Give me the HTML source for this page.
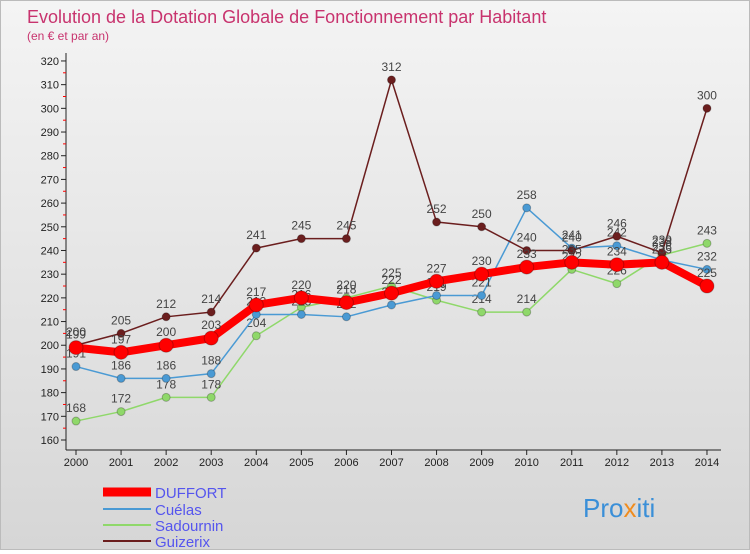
<!DOCTYPE html>
<html><head><meta charset="utf-8"><style>
body{margin:0;width:750px;height:550px;overflow:hidden;font-family:"Liberation Sans",sans-serif}
#wrap{position:relative;width:748px;height:548px;border:1px solid #bbb;background:linear-gradient(#f4f4f4,#d6d6d6)}
</style></head><body>
<div id="wrap">
<svg id="svg" width="748" height="548" xmlns="http://www.w3.org/2000/svg">
<text x="26" y="22" font-size="18" fill="#c8336e">Evolution de la Dotation Globale de Fonctionnement par Habitant</text>
<text x="26" y="39" font-size="12" fill="#c8336e">(en € et par an)</text>
<g id="axes"></g><g id="series"></g>
<g>
<line x1="102" y1="491" x2="150" y2="491" stroke="#f00" stroke-width="9"/>
<text x="154" y="497" font-size="15" fill="#5555ee">DUFFORT</text>
<line x1="102" y1="508" x2="150" y2="508" stroke="#4a9ad4" stroke-width="2"/>
<text x="154" y="514" font-size="15" fill="#5555ee">Cuélas</text>
<line x1="102" y1="524" x2="150" y2="524" stroke="#8fd86a" stroke-width="2"/>
<text x="154" y="530" font-size="15" fill="#5555ee">Sadournin</text>
<line x1="102" y1="540" x2="150" y2="540" stroke="#6b1e1e" stroke-width="2"/>
<text x="154" y="546" font-size="15" fill="#5555ee">Guizerix</text>
</g>
<text x="582" y="516" font-size="26" fill="#3a8fd8">Pro<tspan fill="#f08c1e">x</tspan>iti</text>
</svg></div>
<script>
const years=[2000,2001,2002,2003,2004,2005,2006,2007,2008,2009,2010,2011,2012,2013,2014];
const duffort=[199,197,200,203,217,220,218,222,227,230,233,235,234,235,225];
const cuelas=[191,186,186,188,213,213,212,217,221,221,258,241,242,236,232];
const sadournin=[168,172,178,178,204,216,220,225,219,214,214,232,226,238,243];
const guizerix=[200,205,212,214,241,245,245,312,252,250,240,240,246,239,300];
const yTicks=[160,170,180,190,200,210,220,230,240,250,260,270,280,290,300,310,320];
const NS="http://www.w3.org/2000/svg";
const X=i=>75+i*45.07, Y=v=>439-(v-160)*2.369;
function mk(t,a,p){const e=document.createElementNS(NS,t);for(const k in a)e.setAttribute(k,a[k]);p.appendChild(e);return e;}
const ax=document.getElementById('axes'), sg=document.getElementById('series');
let l=mk('line',{x1:65,y1:52,x2:65,y2:449,stroke:'#222'},ax);

l=mk('line',{x1:65,y1:449,x2:720,y2:449,stroke:'#222'},ax);

yTicks.forEach(v=>{mk('line',{x1:60,y1:Y(v),x2:65,y2:Y(v),stroke:'#222'},ax);
 if(v<320)mk('line',{x1:62,y1:Y(v+5),x2:65,y2:Y(v+5),stroke:'#f00'},ax);
 const t=mk('text',{x:58,y:Y(v)+4,'font-size':11,'text-anchor':'end',fill:'#222'},ax);t.textContent=v;
 });
years.forEach((yr,i)=>{mk('line',{x1:X(i),y1:449,x2:X(i),y2:454,stroke:'#222'},ax);
 const t=mk('text',{x:X(i),y:465,'font-size':11,'text-anchor':'middle',fill:'#222'},ax);t.textContent=yr;
 });
function series(d,col,w,r,name){const g=mk('g',{},sg);
 
 mk('polyline',{points:d.map((v,i)=>X(i)+','+Y(v)).join(' '),fill:'none',stroke:col,'stroke-width':w,'stroke-linejoin':'round'},g);
 d.forEach((v,i)=>{const c=mk('circle',{cx:X(i),cy:Y(v),r:r,fill:col,stroke:'rgba(0,0,0,0.25)'},g);
  
  const t=mk('text',{x:X(i),y:Y(v)-9,'font-size':12,'text-anchor':'middle',fill:'#444'},g);t.textContent=v;
  });}
series(sadournin,'#8fd86a',1.5,4,'sadournin');
series(cuelas,'#4a9ad4',1.5,4,'cuelas');
series(guizerix,'#6b1e1e',1.5,4,'guizerix');
series(duffort,'#f00',8,7,'duffort');
</script></body></html>
